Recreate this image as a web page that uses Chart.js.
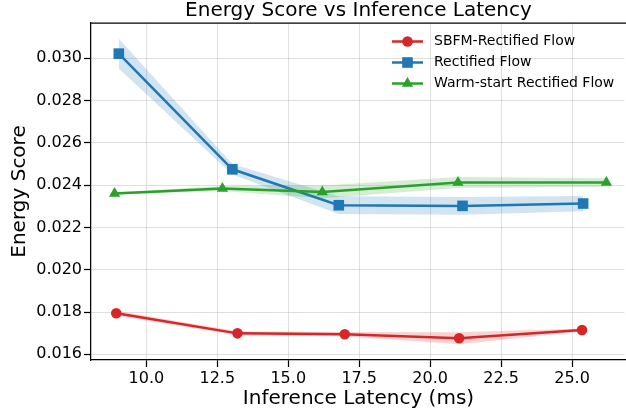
<!DOCTYPE html>
<html>
<head>
<meta charset="utf-8">
<script src="https://cdn.jsdelivr.net/npm/chart.js@4.4.1/dist/chart.umd.min.js"></script>
<style>
  html, body { margin: 0; padding: 0; background: #fff; overflow: hidden; }
  canvas { display: block; }
</style>
</head>
<body>
<canvas id="chart" width="626" height="412"></canvas>
<script>
// values
const latencySBFM = [8.94, 13.21, 16.99, 21.02, 25.35];
const scoreSBFM   = [0.01794, 0.01699, 0.01695, 0.01676, 0.01715];
const stdSBFM     = [0.00012, 0.00010, 0.00010, 0.00028, 0.00007];

const latencyRF = [9.03, 13.03, 16.78, 21.14, 25.39];
const scoreRF   = [0.03022, 0.02475, 0.02305, 0.02302, 0.02313];
const stdRF     = [0.00070, 0.00025, 0.00042, 0.00042, 0.00036];

const latencyWarm = [8.88, 12.68, 16.20, 20.98, 26.21];
const scoreWarm   = [0.02361, 0.02384, 0.02368, 0.02413, 0.02413];
const stdWarm     = [0.00005, 0.00012, 0.00030, 0.00026, 0.00020];

const xTicks = [10, 12.5, 15, 17.5, 20, 22.5, 25];
const yTicks = [0.016, 0.018, 0.020, 0.022, 0.024, 0.026, 0.028, 0.030];

const FONT = 'DejaVu Sans';

const series = [
    { label: 'SBFM-Rectified Flow', x: latencySBFM, y: scoreSBFM, sd: stdSBFM,
      color: '#d62728', band: 'rgba(214,39,40,0.2)', marker: 'circle', r: 5.3 },
    { label: 'Rectified Flow', x: latencyRF, y: scoreRF, sd: stdRF,
      color: '#1f77b4', band: 'rgba(31,119,180,0.2)', marker: 'rect', r: 7.5 },
    { label: 'Warm-start Rectified Flow', x: latencyWarm, y: scoreWarm, sd: stdWarm,
      color: '#2ca02c', band: 'rgba(44,160,44,0.2)', marker: 'triangle', r: 6.5 }
];

function points(xs, ys, sd, sign) {
    return xs.map((x, i) => ({ x: x, y: ys[i] + sign * (sd ? sd[i] : 0) }));
}

// band lower, band upper (filled to lower), then the line itself
const datasets = [];
let order = 20;
series.forEach(s => {
    const lowIdx = datasets.length;
    datasets.push({
        data: points(s.x, s.y, s.sd, -1),
        borderWidth: 0, borderColor: 'rgba(0,0,0,0)',
        pointRadius: 0, fill: false, order: order--
    });
    datasets.push({
        data: points(s.x, s.y, s.sd, 1),
        borderWidth: 0, borderColor: 'rgba(0,0,0,0)',
        pointRadius: 0, backgroundColor: s.band,
        fill: lowIdx, order: order--
    });
    datasets.push({
        label: s.label,
        data: points(s.x, s.y, null, 0),
        borderColor: s.color,
        backgroundColor: s.color,
        borderWidth: 2.5,
        tension: 0,
        pointStyle: s.marker,
        pointRadius: s.r,
        pointBorderWidth: 0,
        pointBackgroundColor: s.color,
        fill: false,
        order: order--
    });
});

function drawMarker(ctx, style, r, x, y) {
    ctx.beginPath();
    if (style === 'circle') {
        ctx.arc(x, y, r, 0, Math.PI * 2);
    } else if (style === 'rect') {
        const h = r * Math.SQRT1_2;
        ctx.rect(x - h, y - h, 2 * h, 2 * h);
    } else {
        ctx.moveTo(x, y - r);
        ctx.lineTo(x + Math.sin(Math.PI * 2 / 3) * r, y + r / 2);
        ctx.lineTo(x - Math.sin(Math.PI * 2 / 3) * r, y + r / 2);
        ctx.closePath();
    }
    ctx.fill();
}

// title over the plot area, top spine and legend in the upper right
const decorations = {
    id: 'decorations',
    afterDraw(chart) {
        const ctx = chart.ctx;
        const a = chart.chartArea;
        ctx.save();

        // no right spine in the reference
        ctx.fillStyle = '#fff';
        ctx.fillRect(a.right - 1.5, a.top + 1, 1.5, a.bottom - a.top - 2);

        ctx.strokeStyle = '#000';
        ctx.lineWidth = 1.25;
        ctx.beginPath();
        ctx.moveTo(a.left, a.top);
        ctx.lineTo(a.right, a.top);
        ctx.stroke();

        ctx.fillStyle = '#000';
        ctx.font = '20px "' + FONT + '"';
        ctx.textAlign = 'center';
        ctx.textBaseline = 'middle';
        ctx.fillText('Energy Score vs Inference Latency', (a.left + a.right) / 2, 11);

        ctx.font = '14px "' + FONT + '"';
        ctx.textAlign = 'left';
        series.forEach((s, i) => {
            const y = 41.5 + i * 21;
            ctx.strokeStyle = s.color;
            ctx.lineWidth = 2.5;
            ctx.beginPath();
            ctx.moveTo(392, y);
            ctx.lineTo(423, y);
            ctx.stroke();
            ctx.fillStyle = s.color;
            drawMarker(ctx, s.marker, s.r, 407.5, y);
            ctx.fillStyle = '#000';
            ctx.fillText(s.label, 434, y);
        });
        ctx.restore();
    }
};

new Chart(document.getElementById('chart'), {
    type: 'line',
    data: { datasets: datasets },
    options: {
        responsive: false,
        animation: false,
        layout: { autoPadding: false, padding: { top: 23, right: 0, bottom: 0, left: 0 } },
        plugins: {
            legend: { display: false },
            title: { display: false },
            tooltip: { enabled: false }
        },
        scales: {
            x: {
                type: 'linear',
                min: 8.05,
                max: 26.9,
                afterBuildTicks: scale => { scale.ticks = xTicks.map(v => ({ value: v })); },
                afterFit: scale => {
                    scale.height = 52;
                    scale.paddingLeft = 0;
                    scale.paddingRight = 0;
                },
                ticks: {
                    autoSkip: false, maxRotation: 0, padding: 2,
                    color: '#000', font: { family: FONT, size: 16 },
                    callback: v => Number(v).toFixed(1)
                },
                grid: {
                    color: 'rgba(176,176,176,0.4)', lineWidth: 1,
                    tickLength: 7, tickColor: '#000', tickWidth: 1.25
                },
                border: { color: '#000', width: 1.25 },
                title: {
                    display: true, text: 'Inference Latency (ms)', color: '#000',
                    font: { family: FONT, size: 20 }, padding: { top: 0, bottom: 1 }
                }
            },
            y: {
                type: 'linear',
                min: 0.01573,
                max: 0.03167,
                afterBuildTicks: scale => { scale.ticks = yTicks.map(v => ({ value: v })); },
                afterFit: scale => {
                    scale.width = 91;
                    scale.paddingTop = 0;
                    scale.paddingBottom = 0;
                },
                ticks: {
                    autoSkip: false, padding: 2,
                    color: '#000', font: { family: FONT, size: 16 },
                    callback: v => Number(v).toFixed(3)
                },
                grid: {
                    color: 'rgba(176,176,176,0.4)', lineWidth: 1,
                    tickLength: 7, tickColor: '#000', tickWidth: 1.25
                },
                border: { color: '#000', width: 1.25 },
                title: {
                    display: true, text: 'Energy Score', color: '#000',
                    font: { family: FONT, size: 20 }, padding: { top: 7.5, bottom: 0 }
                }
            }
        }
    },
    plugins: [decorations]
});
</script>
</body>
</html>
